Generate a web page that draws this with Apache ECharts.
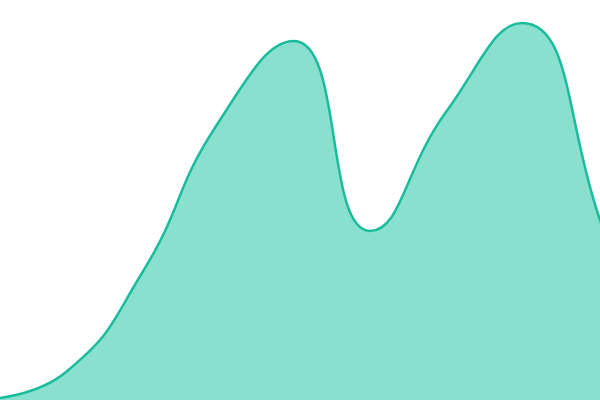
<!DOCTYPE html>
<html>
<head>
<meta charset="utf-8">
<script src="https://cdn.jsdelivr.net/npm/echarts@6/dist/echarts.min.js"></script>
<style>html,body{margin:0;padding:0;background:#fff}#c{width:600px;height:400px}</style>
</head>
<body>
<div id="c"></div>
<script>
var steps = [0, 1, 2, 3, 4, 5, 6, 7, 8, 9];
var values = [1, 28, 127, 277, 359, 169, 288, 377, 186, -80];

var seriesData = steps.map(function (s, i) { return [s, values[i]]; });

var chart = echarts.init(document.getElementById('c'));
chart.setOption({
  animation: false,
  grid: { left: 0, right: 0, top: 0, bottom: 0 },
  xAxis: { type: 'value', min: 10 / 76, max: 610 / 76, show: false },
  yAxis: { type: 'value', min: 0, max: 400, show: false },
  series: [{
    type: 'line',
    data: seriesData,
    smooth: true,
    clip: true,
    symbol: 'none',
    lineStyle: { color: '#1abc9c', width: 2.5 },
    itemStyle: { color: '#1abc9c' },
    areaStyle: { color: '#89e0cf', opacity: 1 }
  }]
});
</script>
</body>
</html>
